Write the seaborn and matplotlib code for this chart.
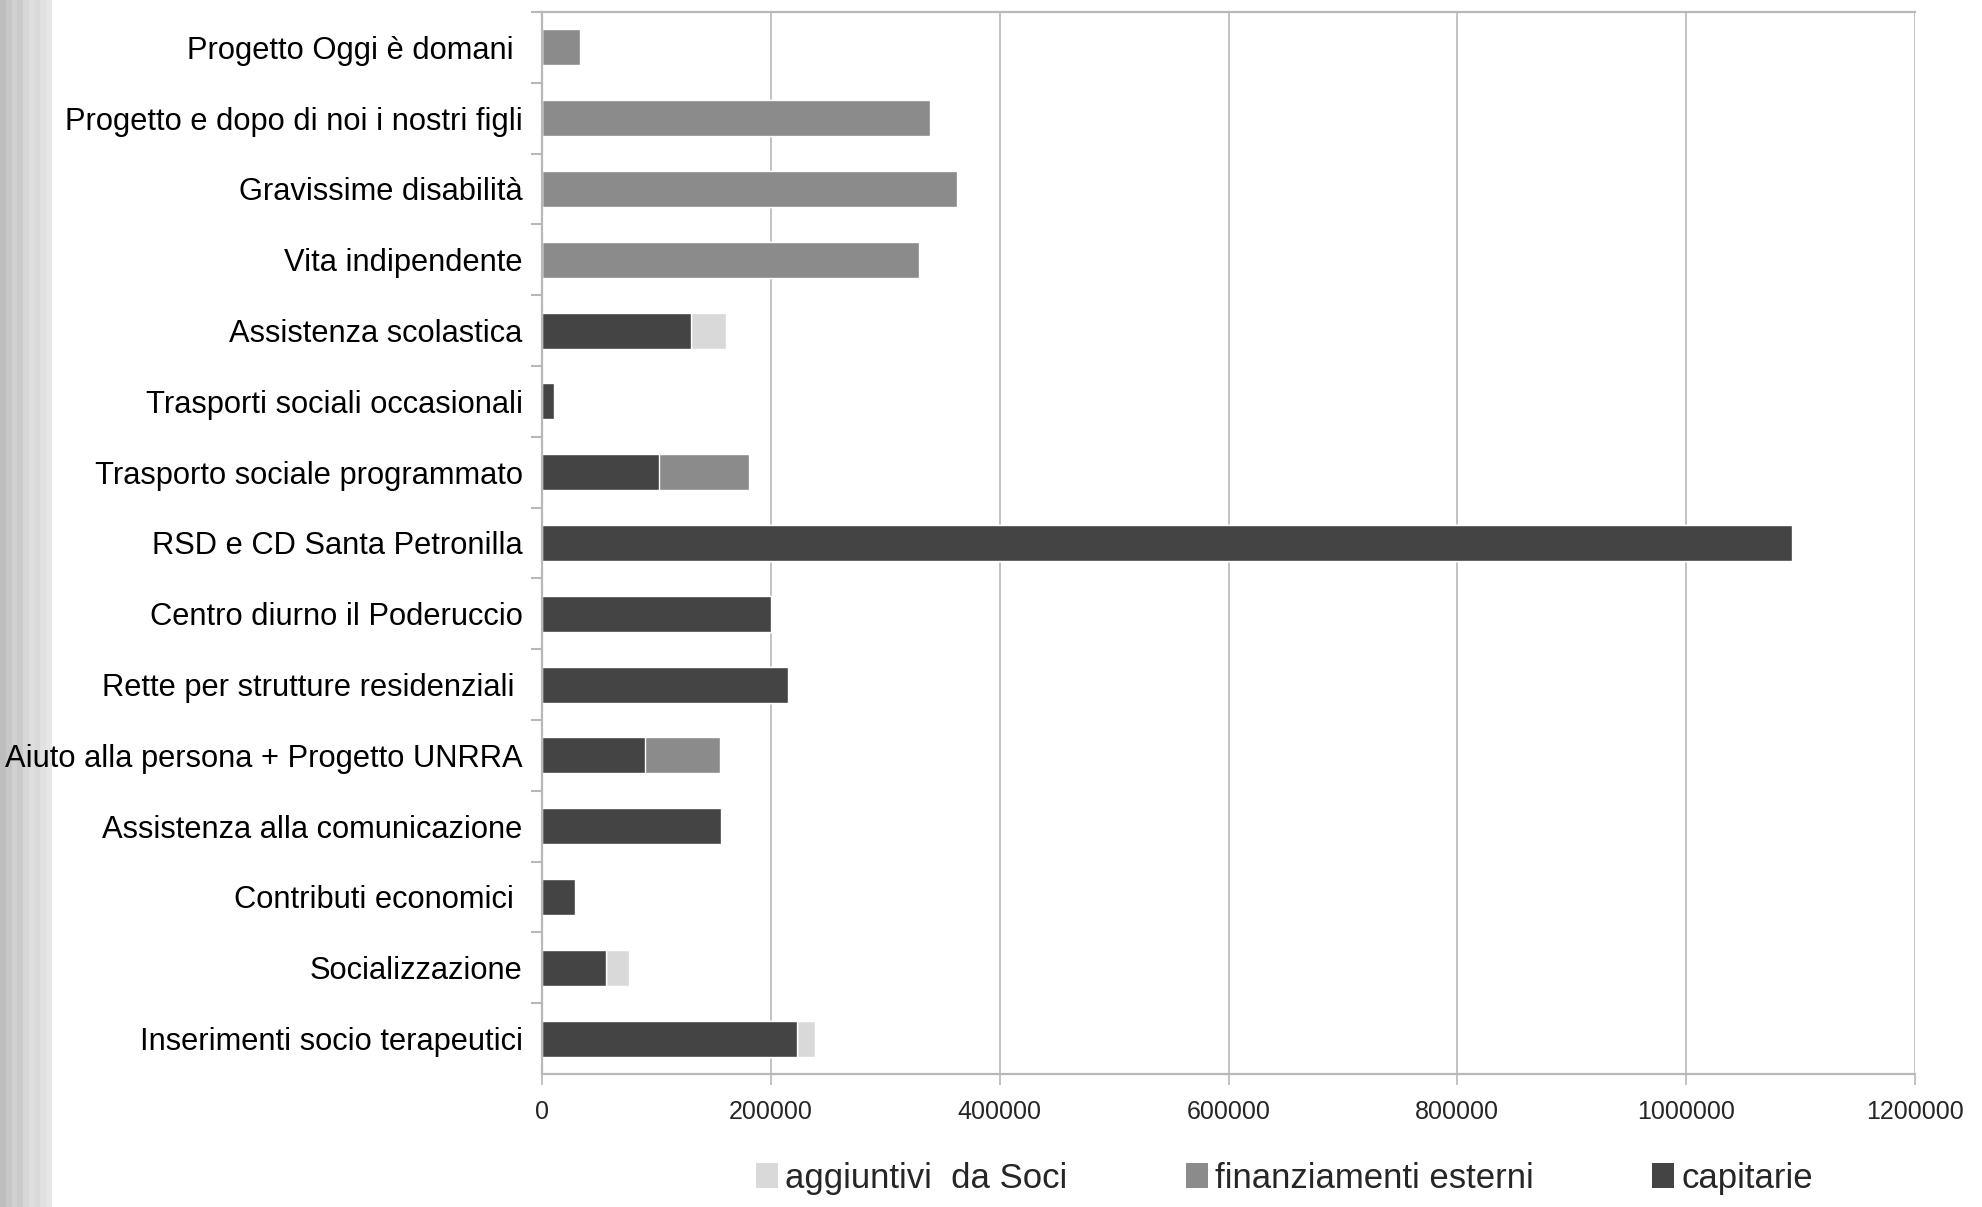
import matplotlib
matplotlib.use("Agg")
import matplotlib.pyplot as plt
import numpy as np
import pandas as pd
import seaborn as sns
from matplotlib.patches import Patch

# Dati
categorie = [
    "Progetto Oggi è domani ",
    "Progetto e dopo di noi i nostri figli",
    "Gravissime disabilità",
    "Vita indipendente",
    "Assistenza scolastica",
    "Trasporti sociali occasionali",
    "Trasporto sociale programmato",
    "RSD e CD Santa Petronilla",
    "Centro diurno il Poderuccio",
    "Rette per strutture residenziali ",
    "Aiuto alla persona + Progetto UNRRA",
    "Assistenza alla comunicazione",
    "Contributi economici ",
    "Socializzazione",
    "Inserimenti socio terapeutici",
]
capitarie = [0, 0, 0, 0, 130000, 10500, 102000, 1092600, 200000, 215000,
             90000, 156500, 28800, 56000, 222700]
finanziamenti = [33200, 339000, 362400, 329300, 0, 0, 79000, 0, 0, 0,
                 65600, 0, 0, 0, 0]
aggiuntivi = [0, 0, 0, 0, 30600, 0, 0, 0, 0, 0, 0, 0, 0, 20000, 15700]
serie = ["aggiuntivi  da Soci", "finanziamenti esterni", "capitarie"]
xticks = [0, 200000, 400000, 600000, 800000, 1000000, 1200000]

colori = {"capitarie": "#444444", "finanziamenti esterni": "#8b8b8b",
          "aggiuntivi  da Soci": "#d9d9d9"}

sns.set_style("white")
plt.rcParams["font.family"] = ["Liberation Sans", "DejaVu Sans"]

df = pd.DataFrame({"categoria": categorie, "capitarie": capitarie,
                   "finanziamenti": finanziamenti, "aggiuntivi": aggiuntivi})
df["liv_fin"] = df["capitarie"] + df["finanziamenti"]
df["liv_agg"] = df["liv_fin"] + df["aggiuntivi"]

fig = plt.figure(figsize=(19.82, 12.07), dpi=100)

# striscia decorativa a sinistra
sfumature = [0.74, 0.78, 0.82, 0.79, 0.84, 0.87, 0.85, 0.88, 0.90]
ax_bg = fig.add_axes([0, 0, 0.026, 1])
ax_bg.imshow([sfumature], aspect="auto", cmap="gray", vmin=0, vmax=1)
ax_bg.axis("off")

ax = fig.add_axes([0.2735, 0.1102, 0.6927, 0.8799])
ax.xaxis.grid(True, color="#b8b8b8", linewidth=1.2)
ax.set_axisbelow(True)

larg = 0.51
sns.barplot(data=df, x="liv_agg", y="categoria", order=categorie, orient="h",
            color=colori["aggiuntivi  da Soci"], width=larg, saturation=1, ax=ax)
sns.barplot(data=df, x="liv_fin", y="categoria", order=categorie, orient="h",
            color=colori["finanziamenti esterni"], width=larg, saturation=1, ax=ax)
sns.barplot(data=df, x="capitarie", y="categoria", order=categorie, orient="h",
            color=colori["capitarie"], width=larg, saturation=1, ax=ax)

ax.set_xlim(0, 1200000)
ax.set_ylim(len(categorie) - 0.5, -0.5)
ax.set_xticks(xticks)
ax.set_xticklabels([str(v) for v in xticks])
ax.set_xlabel("")
ax.set_ylabel("")

ax.set_yticks(np.arange(len(categorie)) - 0.5, minor=True)
ax.tick_params(axis="y", which="major", length=0, pad=14, labelsize=22.2,
               labelcolor="black")
ax.tick_params(axis="y", which="minor", length=8, width=1.5, color="#b8b8b8",
               left=True)
ax.tick_params(axis="x", which="major", length=8, width=1.2, color="#b8b8b8",
               pad=11, labelsize=18, bottom=True)

for lato in ["left", "bottom", "top"]:
    ax.spines[lato].set_visible(True)
    ax.spines[lato].set_color("#b8b8b8")
    ax.spines[lato].set_linewidth(1.6)
ax.spines["right"].set_visible(False)

maniglie = [Patch(facecolor=colori[s], edgecolor="none") for s in serie]
fig.legend(maniglie, serie, loc="center", bbox_to_anchor=(0.648, 0.024),
           ncol=3, frameon=False, fontsize=25, handlelength=0.65,
           handleheight=0.75, handletextpad=0.2, columnspacing=3.4)

fig.savefig("out.png", dpi=100)
